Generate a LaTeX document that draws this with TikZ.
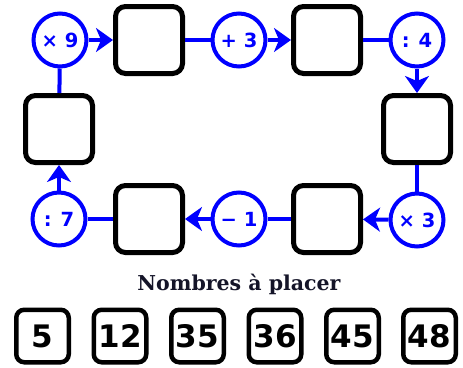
\documentclass[tikz,border=0pt]{standalone}
\usepackage{fontspec}
\setmainfont{DejaVu Sans}
\newfontfamily\titlefont{DejaVu Serif}
\usetikzlibrary{arrows.meta}
\definecolor{opblue}{RGB}{0,0,255}
\definecolor{titleink}{RGB}{20,20,40}
\tikzset{
  slot/.style={draw=black, line width=5pt, rounded corners=10pt, minimum size=67pt, inner sep=0pt, fill=white},
  op/.style={circle, draw=opblue, line width=4pt, minimum size=53pt, inner sep=0pt, fill=white,
    text=opblue, font=\fontsize{19.5}{19.5}\selectfont\bfseries},
  link/.style={draw=opblue, line width=4pt},
  flow/.style={link, -{Stealth[length=17pt,width=24pt,inset=5pt]}},
  numbox/.style={draw=black, line width=4.5pt, rounded corners=8pt, minimum size=52.5pt, inner sep=0pt,
    font=\fontsize{31}{31}\selectfont\bfseries},
}
\begin{document}
\begin{tikzpicture}[x=1pt,y=-1pt]
\useasboundingbox (0,0) rectangle (463,367);
% top row
\node[op]   (m9) at (60,40)  {× 9};
\node[slot] (b1) at (149,40) {};
\node[op]   (p3) at (239,40) {+ 3};
\node[slot] (b2) at (327,40) {};
\node[op]   (d4) at (417,40) {: 4};
% sides
\node[slot] (bl) at (59,129)  {};
\node[slot] (br) at (417,129) {};
% bottom row
\node[op]   (d7) at (59,219)  {: 7};
\node[slot] (b4) at (149,219) {};
\node[op]   (s1) at (239,219) {− 1};
\node[slot] (b3) at (327,219) {};
\node[op]   (m3) at (417,220) {× 3};
% connectors around the loop
\draw[flow] (m9) -- (b1);
\draw[link] (b1) -- (p3);
\draw[flow] (p3) -- (b2);
\draw[link] (b2) -- (d4);
\draw[flow] (d4) -- (br);
\draw[link] (br) -- (m3);
\draw[flow] (m3) -- (b3);
\draw[link] (b3) -- (s1);
\draw[flow] (s1) -- (b4);
\draw[link] (b4) -- (d7);
\draw[flow] (d7) -- (bl);
\draw[link] (bl) -- (m9);
% numbers to place
\node[text=titleink] (title) at (239,284) {\titlefont\fontsize{20.5}{20.5}\selectfont\bfseries Nombres à placer};
\node[numbox] (n1) at (42.5,336)  {5};
\node[numbox] (n2) at (120,336)   {12};
\node[numbox] (n3) at (197.5,336) {35};
\node[numbox] (n4) at (275,336)   {36};
\node[numbox] (n5) at (352.5,336) {45};
\node[numbox] (n6) at (429.5,336) {48};
\end{tikzpicture}
\end{document}
